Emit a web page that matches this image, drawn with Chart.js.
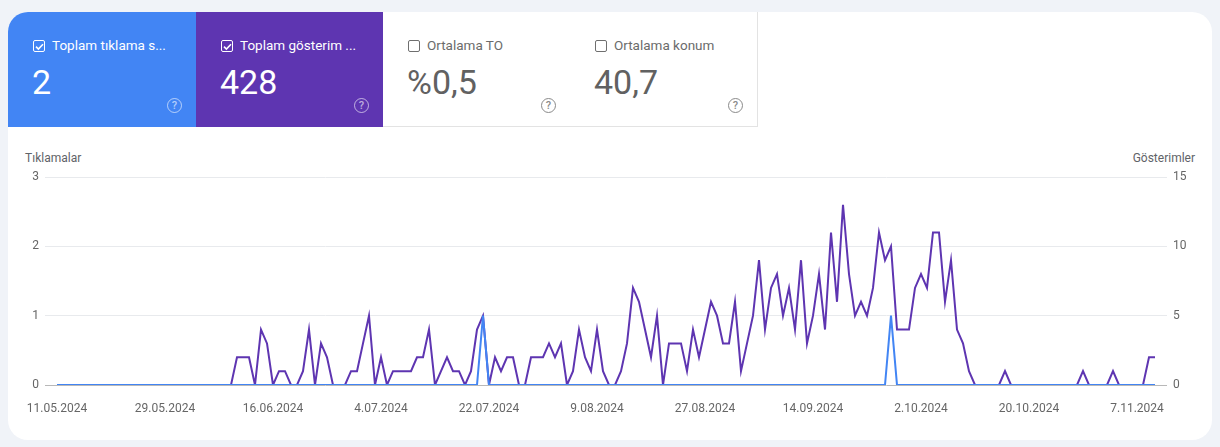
<!DOCTYPE html>
<html lang="tr">
<head>
<meta charset="utf-8">
<title>Performans</title>
<script src="https://cdn.jsdelivr.net/npm/chart.js@4.4.1/dist/chart.umd.min.js"></script>
<style>
  html, body { margin: 0; padding: 0; }
  body {
    width: 1220px; height: 447px; overflow: hidden;
    background: #f0f3f8;
    font-family: Roboto, "Noto Sans", Arial, sans-serif;
    position: relative;
  }
  .card {
    position: absolute; left: 8px; top: 12px; width: 1204px; height: 428px;
    background: #fff; border-radius: 20px; overflow: hidden;
  }
  .tile {
    position: absolute; top: 0; height: 115px; box-sizing: border-box;
  }
  .tile .lbl {
    position: absolute; left: 25px; top: 25px; height: 16px;
    font-size: 13.5px; line-height: 16px; white-space: nowrap;
  }
  .tile .box {
    display: inline-block; width: 10px; height: 10px; border: 1.5px solid currentColor;
    border-radius: 2px; vertical-align: -2px; margin-right: 7px; position: relative;
  }
  .tile .box svg { position: absolute; left: -1px; top: -1px; }
  .tile .val {
    position: absolute; left: 24px; top: 50px; font-size: 34px; line-height: 40px;
  }
  .tile .help {
    position: absolute; right: 14px; top: 86px; width: 13px; height: 13px;
    border: 1.5px solid currentColor; border-radius: 50%;
    font-size: 11px; line-height: 13px; text-align: center; font-weight: 500;
  }
  .on1 { left: 0; width: 188px; background: #4285f4; color: #fff; }
  .on2 { left: 188px; width: 187px; background: #5e35b1; color: #fff; }
  .on1 .help, .on2 .help { color: rgba(255,255,255,0.6); }
  .off { background: #fff; color: #616161; border-right: 1px solid #e3e3e3; border-bottom: 1px solid #e3e3e3; }
  .off .lbl { color: #6b6b6b; }
  .off .help { color: #8a8a8a; }
  .off .box { color: #6f6f6f; }
  .axt { position: absolute; top: 151px; font-size: 12px; color: #5f6368; }
  #wrap { position: absolute; left: 8px; top: 140px; width: 1204px; height: 295px; }
</style>
</head>
<body>
<div class="card">
  <div class="tile on1">
    <div class="lbl"><span class="box"><svg width="13" height="13" viewBox="0 0 13 13"><path d="M3 6.6 L5.4 9 L10 4.2" fill="none" stroke="#fff" stroke-width="1.6"/></svg></span>Toplam tıklama s...</div>
    <div class="val">2</div>
    <div class="help">?</div>
  </div>
  <div class="tile on2">
    <div class="lbl"><span class="box"><svg width="13" height="13" viewBox="0 0 13 13"><path d="M3 6.6 L5.4 9 L10 4.2" fill="none" stroke="#fff" stroke-width="1.6"/></svg></span>Toplam gösterim ...</div>
    <div class="val">428</div>
    <div class="help">?</div>
  </div>
  <div class="tile off" style="left:375px;width:188px;">
    <div class="lbl"><span class="box"></span>Ortalama TO</div>
    <div class="val">%0,5</div>
    <div class="help">?</div>
  </div>
  <div class="tile off" style="left:562px;width:188px;">
    <div class="lbl"><span class="box"></span>Ortalama konum</div>
    <div class="val">40,7</div>
    <div class="help">?</div>
  </div>
</div>
<div class="axt" style="left:25px;">Tıklamalar</div>
<div class="axt" style="right:25px;">Gösterimler</div>
<div id="wrap"><canvas id="perfChart"></canvas></div>

<script>
// tick labels on the date axis, every 18 days from 11.05.2024
var dateTicks = ['11.05.2024', '29.05.2024', '16.06.2024', '4.07.2024', '22.07.2024', '9.08.2024',
                 '27.08.2024', '14.09.2024', '2.10.2024', '20.10.2024', '7.11.2024'];

// daily clicks, 11.05.2024 .. 10.11.2024 (184 days)
var clicks = [
  0,0,0,0,0,0,0,0,0,0, 0,0,0,0,0,0,0,0,0,0, 0,0,0,0,0,0,0,0,0,0,
  0,0,0,0,0,0,0,0,0,0, 0,0,0,0,0,0,0,0,0,0, 0,0,0,0,0,0,0,0,0,0,
  0,0,0,0,0,0,0,0,0,0, 0,1,0,0,0,0,0,0,0,0, 0,0,0,0,0,0,0,0,0,0,
  0,0,0,0,0,0,0,0,0,0, 0,0,0,0,0,0,0,0,0,0, 0,0,0,0,0,0,0,0,0,0,
  0,0,0,0,0,0,0,0,0,0, 0,0,0,0,0,0,0,0,0,1, 0,0,0,0,0,0,0,0,0,0,
  0,0,0,0,0,0,0,0,0,0, 0,0,0,0,0,0,0,0,0,0, 0,0,0,0,0,0,0,0,0,0,
  0,0,0,0
];

// daily impressions, same days
var impressions = [
  0,0,0,0,0,0,0,0,0,0, 0,0,0,0,0,0,0,0,0,0, 0,0,0,0,0,0,0,0,0,0,
  2,2,2,0,4,3,0,1,1,0, 0,1,4,0,3,2,0,0,0,1, 1,3,5,0,2,0,1,1,1,1,
  2,2,4,0,1,2,1,1,0,1, 4,5,0,2,1,2,2,0,0,2, 2,2,3,2,3,0,1,4,2,1,
  4,1,0,0,1,3,7,6,4,2, 5,0,3,3,3,1,4,2,4,6, 5,3,3,6,1,3,5,9,4,7,
  8,5,7,4,9,3,5,8,4,11, 6,13,8,5,6,5,7,11,9,10, 4,4,4,7,8,7,11,11,6,9,
  4,3,1,0,0,0,0,0,1,0, 0,0,0,0,0,0,0,0,0,0, 0,1,0,0,0,0,1,0,0,0,
  0,0,2,2
];

var tickDays = dateTicks.map(function(d, i) { return i * 18; });

var clickPts = clicks.map(function(v, i) { return { x: i, y: v }; });
var imprPts = impressions.map(function(v, i) { return { x: i, y: v }; });

var axisFont = { family: 'Roboto, "Noto Sans", sans-serif', size: 12 };

var ctx = document.getElementById('perfChart').getContext('2d');
var perfChart = new Chart(ctx, {
  type: 'line',
  data: {
    datasets: [
      {
        label: 'Tıklamalar',
        data: clickPts,
        yAxisID: 'yClicks',
        borderColor: '#4285f4',
        borderWidth: 2,
        pointRadius: 0,
        tension: 0,
        order: 0
      },
      {
        label: 'Gösterimler',
        data: imprPts,
        yAxisID: 'yImpr',
        borderColor: '#5e35b1',
        borderWidth: 2,
        pointRadius: 0,
        tension: 0,
        order: 1
      }
    ]
  },
  options: {
    responsive: true,
    maintainAspectRatio: false,
    animation: false,
    layout: { padding: { top: 37, bottom: 0, left: 0, right: 0 } },
    plugins: { legend: { display: false }, tooltip: { enabled: false } },
    scales: {
      x: {
        type: 'linear',
        min: -2,
        max: 185,
        afterBuildTicks: function(scale) {
          scale.ticks = tickDays.map(function(d) { return { value: d }; });
        },
        afterFit: function(scale) { scale.height = 50; },
        ticks: {
          autoSkip: false,
          maxRotation: 0,
          padding: 9,
          color: '#666',
          font: axisFont,
          callback: function(value) { return dateTicks[tickDays.indexOf(value)]; }
        },
        grid: { display: false },
        border: { display: false }
      },
      yClicks: {
        position: 'left',
        min: 0,
        max: 3,
        afterFit: function(scale) { scale.width = 37; },
        ticks: { stepSize: 1, padding: 6, color: '#666', font: axisFont },
        grid: {
          drawTicks: false,
          color: function(c) { return c.tick.value === 0 ? '#b8b8b8' : '#e8eaed'; }
        },
        border: { display: false }
      },
      yImpr: {
        position: 'right',
        min: 0,
        max: 15,
        afterFit: function(scale) { scale.width = 45; },
        ticks: { stepSize: 5, padding: 6, color: '#666', font: axisFont },
        grid: { display: false, drawTicks: false },
        border: { display: false }
      }
    }
  }
});
</script>
</body>
</html>
